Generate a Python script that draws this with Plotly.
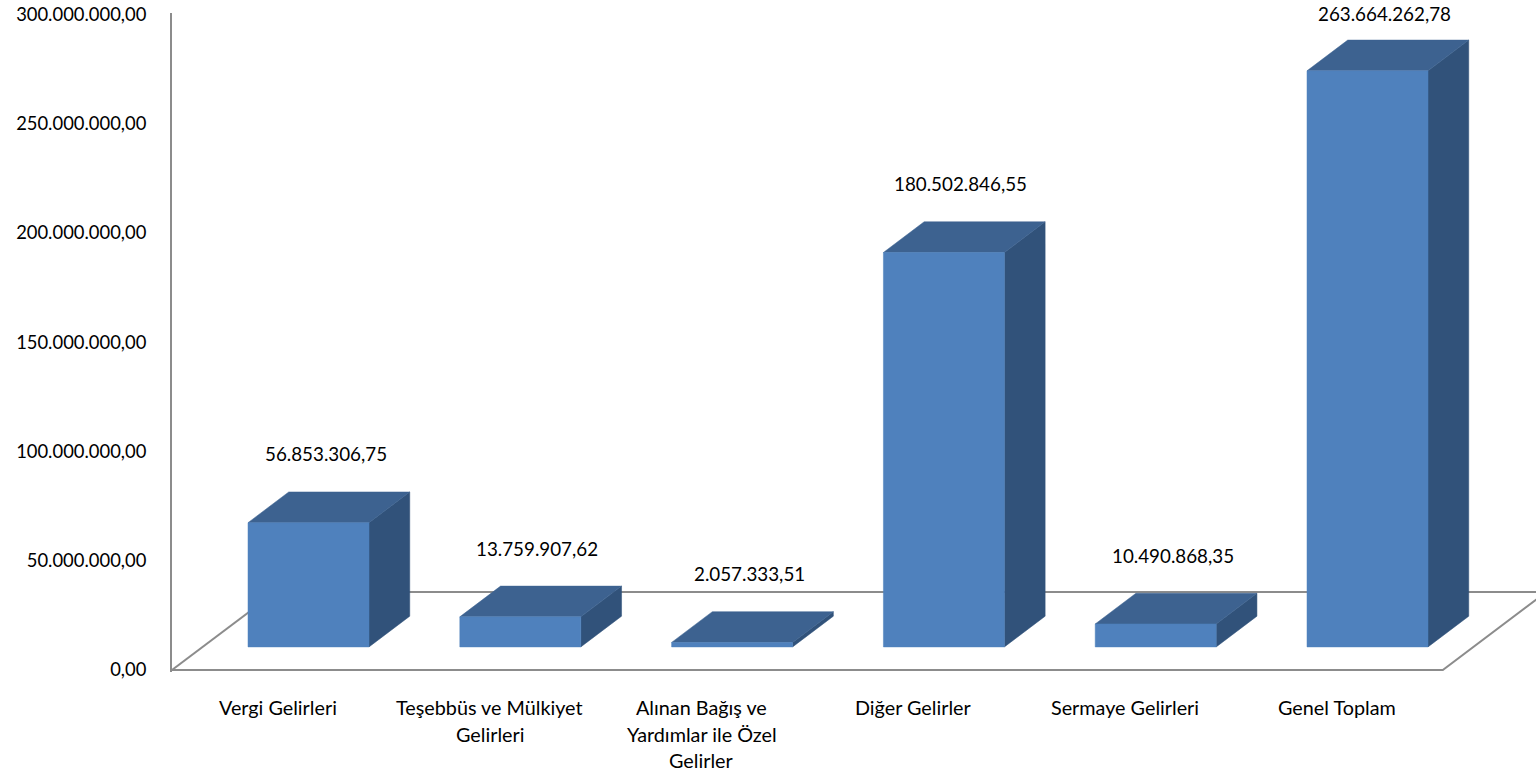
import plotly.graph_objects as go

# ---------------- data ----------------
categories = [
    "Vergi Gelirleri",
    "Teşebbüs ve Mülkiyet<br>Gelirleri",
    "Alınan Bağış ve<br>Yardımlar ile Özel<br>Gelirler",
    "Diğer Gelirler",
    "Sermaye Gelirleri",
    "Genel Toplam",
]
values = [56853306.75, 13759907.62, 2057333.51, 180502846.55, 10490868.35, 263664262.78]
y_ticks = [0, 50000000, 100000000, 150000000, 200000000, 250000000, 300000000]

# ---------------- geometry (pixels -> axis units) ----------------
W, H = 1536, 778
ML, MR, MT = 172, 0, 13
Y0_PX = 670            # pixel row of value 0
MB = H - 672           # plot bottom slightly below value 0 so the floor edge is not clipped
PX_PER_VAL = 2.185e-6  # pixels per unit of value
PX_PER_CAT = 211.8     # pixels per category

x_min = -0.5
x_max = x_min + (W - ML - MR) / PX_PER_CAT
y_top = (Y0_PX - MT) / PX_PER_VAL
y_bot = -(672 - Y0_PX) / PX_PER_VAL

# oblique depth vector of the floor (in axis units)
DX = 103.4 / PX_PER_CAT
DY = 78.0 / PX_PER_VAL
D_FRONT, D_BACK = 0.296, 0.69
HALF_W = 0.5713 / 2
LABEL_GAP = 38.0 / PX_PER_VAL
LABEL_XSHIFT = 17.0

FRONT_C = "#4F81BD"
TOP_C = "#3D6290"
SIDE_C = "#31527A"
LINE_C = "#8C8C8C"
FONT = "Lato"

n = len(values)
fig = go.Figure()

# floor outline
x_left, x_right = -0.5, n - 0.5
floor_x = [x_left + DX, x_right + DX, None, x_left, x_right, x_right + DX, None, x_left, x_left + DX]
floor_y = [DY, DY, None, 0, 0, DY, None, 0, DY]
fig.add_trace(go.Scatter(x=floor_x, y=floor_y, mode="lines",
                         line=dict(color=LINE_C, width=2), hoverinfo="skip", showlegend=False))

fx, fy = D_FRONT * DX, D_FRONT * DY
ddx, ddy = (D_BACK - D_FRONT) * DX, (D_BACK - D_FRONT) * DY

def poly(xs, ys, color):
    fig.add_trace(go.Scatter(x=xs + [xs[0]], y=ys + [ys[0]], mode="lines", fill="toself",
                             fillcolor=color, line=dict(color=color, width=0.5),
                             hoverinfo="skip", showlegend=False))

annotations = []
for i, v in enumerate(values):
    a = i + fx - HALF_W
    b = i + fx + HALF_W
    y0 = fy
    y1 = v + fy
    # right side
    poly([b, b, b + ddx, b + ddx], [y0, y1, y1 + ddy, y0 + ddy], SIDE_C)
    # top
    poly([a, b, b + ddx, a + ddx], [y1, y1, y1 + ddy, y1 + ddy], TOP_C)
    # front
    poly([a, b, b, a], [y0, y0, y1, y1], FRONT_C)

    txt = f"{v:,.2f}".replace(",", "X").replace(".", ",").replace("X", ".")
    ylab = min(v + D_BACK * DY + LABEL_GAP, y_top)
    annotations.append(dict(x=i + fx, y=ylab, xref="x", yref="y", text=txt,
                            showarrow=False, xshift=LABEL_XSHIFT, yanchor="middle",
                            font=dict(family=FONT, size=18.8, color="#000000")))

# category labels (one annotation per line)
for i, cat in enumerate(categories):
    for j, line in enumerate(cat.split("<br>")):
        annotations.append(dict(x=i, y=0, xref="x", yref="y", text=line, showarrow=False,
                                yanchor="middle", yshift=-(37 + 26.7 * j),
                                font=dict(family=FONT, size=19.8, color="#000000")))

fig.update_layout(
    width=W, height=H,
    margin=dict(l=ML, r=MR, t=MT, b=MB, pad=0),
    paper_bgcolor="white", plot_bgcolor="white",
    separators=",.",
    showlegend=False,
    annotations=annotations,
    xaxis=dict(range=[x_min, x_max], showgrid=False, zeroline=False, showline=False,
               showticklabels=False, ticks="", fixedrange=True),
    yaxis=dict(range=[y_bot, y_top], showgrid=False, zeroline=False, showline=True,
               linecolor=LINE_C, linewidth=2, tickvals=y_ticks, tickformat=",.2f",
               ticks="", ticklabelstandoff=20,
               tickfont=dict(family=FONT, size=18.4, color="#000000"), fixedrange=True),
)

fig.write_html("out.html", config={"displayModeBar": False})
